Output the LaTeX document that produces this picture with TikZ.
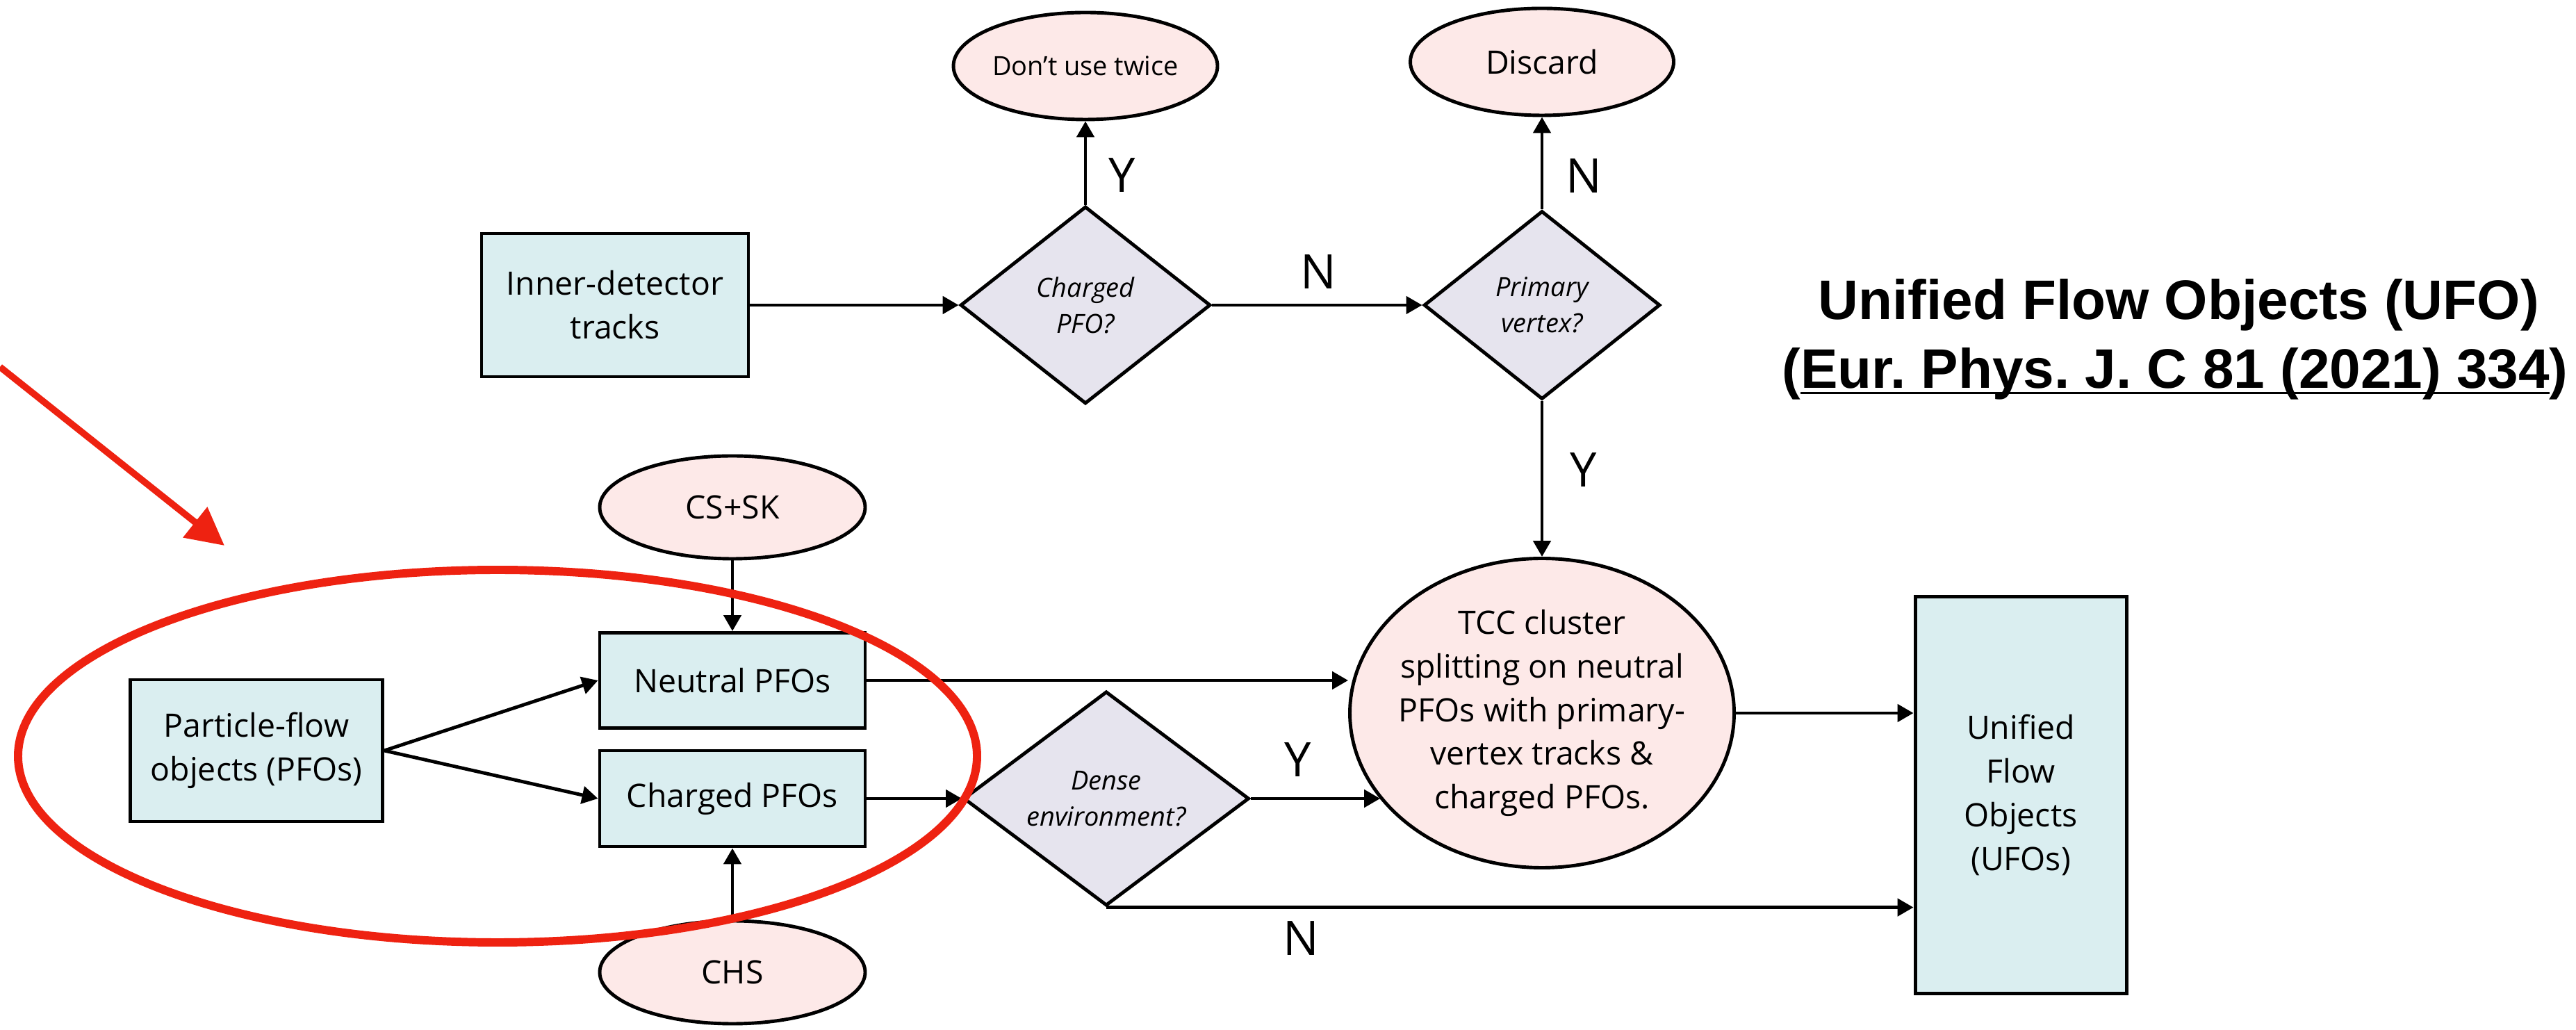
\documentclass[tikz,border=0pt]{standalone}
\usepackage{fontspec}
\setmainfont{Open Sans}
\newfontfamily\titlefont{Liberation Sans}
\usetikzlibrary{shapes.geometric,arrows.meta}
\frenchspacing

\definecolor{boxfill}{HTML}{DAEEF0}
\definecolor{ovalfill}{HTML}{FDE9E8}
\definecolor{decfill}{HTML}{E6E4EE}
\definecolor{markred}{HTML}{EE2211}

\newcommand{\refline}[1]{\setbox0\hbox{#1}\rlap{\rule[-2.2pt]{\wd0}{0.9pt}}\box0}

\tikzset{
  every node/.style={font=\fontsize{13.2}{17.9}\selectfont},
  databox/.style={draw,line width=1.4pt,fill=boxfill,rectangle,inner sep=0pt,align=center},
  oval/.style={draw,line width=1.4pt,fill=ovalfill,ellipse,inner sep=0pt,align=center},
  decision/.style={draw,line width=1.4pt,fill=decfill,diamond,inner sep=0pt,align=center,
    font=\fontsize{10.8}{14.8}\selectfont\itshape},
  yn/.style={font=\fontsize{19.5}{22}\selectfont},
  flow/.style={-{Triangle[length=2.3mm,width=2.5mm]},line width=1.4pt},
  markup/.style={draw=markred,line width=3.4pt},
}

\begin{document}
\begin{tikzpicture}
\useasboundingbox (0,0) rectangle (37.07,14.81);

\node[databox,minimum width=3.84cm,minimum height=2.06cm] (inner) at (8.85,10.42) {Inner-detector\\tracks};
\node[decision,minimum width=3.60cm,minimum height=2.84cm] (chq) at (15.62,10.42) {Charged\\PFO?};
\node[decision,minimum width=3.40cm,minimum height=2.71cm] (pvq) at (22.19,10.42) {Primary\\vertex?};
\node[oval,minimum width=3.80cm,minimum height=1.54cm,font=\fontsize{10.8}{14}\selectfont] (twice) at (15.62,13.86) {Don’t use twice};
\node[oval,minimum width=3.79cm,minimum height=1.54cm] (discard) at (22.19,13.92) {Discard};

\node[databox,minimum width=3.63cm,minimum height=2.04cm] (pfo) at (3.69,4.01) {Particle-flow\\objects (PFOs)};
\node[oval,minimum width=3.82cm,minimum height=1.48cm] (cssk) at (10.54,7.51) {CS+SK};
\node[databox,minimum width=3.82cm,minimum height=1.37cm] (neutral) at (10.54,5.02) {Neutral PFOs};
\node[databox,minimum width=3.82cm,minimum height=1.38cm] (charged) at (10.54,3.32) {Charged PFOs};
\node[oval,minimum width=3.82cm,minimum height=1.48cm] (chs) at (10.54,0.82) {CHS};
\node[decision,minimum width=4.11cm,minimum height=2.93cm] (dense) at (15.92,3.32) {Dense\\environment?};
\node[oval,inner xsep=-0.11cm,minimum width=5.53cm,minimum height=4.45cm] (tcc) at (22.19,4.55) {TCC cluster\\splitting on neutral\\PFOs with primary-\\vertex tracks \&\\charged PFOs.};
\node[databox,minimum width=3.04cm,minimum height=5.71cm] (ufo) at (29.08,3.37) {Unified\\Flow\\Objects\\(UFOs)};

\node[yn] (y1) at (16.15,12.29) {Y};
\node[yn] (n1) at (18.97,10.90) {N};
\node[yn] (n2) at (22.79,12.28) {N};
\node[yn] (y2) at (22.79,8.05) {Y};
\node[yn] (y3) at (18.68,3.88) {Y};
\node[yn] (n3) at (18.72,1.31) {N};

\node[anchor=base,font={\titlefont\bfseries\fontsize{22.8}{28}\selectfont}] (title) at (31.35,10.21) {Unified Flow Objects (UFO)};
\node[anchor=base,font={\titlefont\bfseries\fontsize{22.8}{28}\selectfont}] (ref) at (31.30,9.22) {(\refline{Eur. Phys. J. C 81 (2021) 334})};

\draw[flow] (inner) -- (chq);
\draw[flow] (chq) -- (pvq);
\draw[flow] (chq) -- (twice);
\draw[flow] (pvq) -- (discard);
\draw[flow] (pvq) -- (tcc);

\draw[flow] (cssk) -- (neutral);
\draw[flow] (chs) -- (charged);
\draw[flow] (pfo.east) -- (neutral.west);
\draw[flow] (pfo.east) -- (charged.west);
\draw[flow] (charged) -- (dense);
\draw[flow] (neutral.east) -- (neutral.east -| tcc.west);
\draw[flow] (dense.east) -- (dense.east -| tcc.208);
\draw[flow] (tcc.east) -- (tcc.east -| ufo.west);
\draw[flow] (dense.south) -- (dense.south -| ufo.west);

\coordinate (markstart) at (0,9.53);
\coordinate (marktip) at (3.23,6.96);
\draw[markup,line width=2.7pt,-{Triangle[length=5.4mm,width=5.4mm]}] (markstart) -- (marktip);
\draw[markup] (7.16,3.93) ellipse [x radius=6.90,y radius=2.68];
\end{tikzpicture}
\end{document}
